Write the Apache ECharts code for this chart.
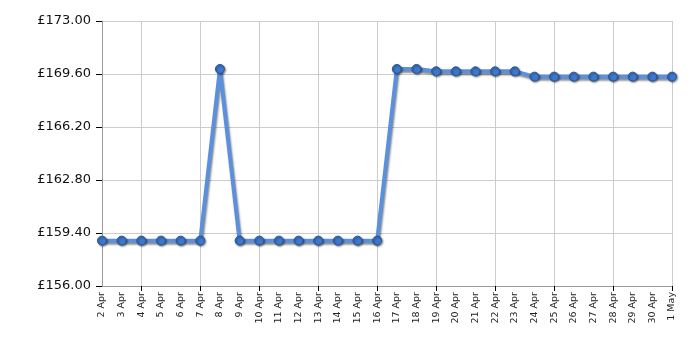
<!DOCTYPE html>
<html><head><meta charset="utf-8">
<script src="https://cdn.jsdelivr.net/npm/echarts@6/dist/echarts.min.js"></script>
<style>html,body{margin:0;padding:0;background:#fff}#c{width:700px;height:350px}</style>
</head><body><div id="c"></div>
<script>
const categories = ["2 Apr","3 Apr","4 Apr","5 Apr","6 Apr","7 Apr","8 Apr","9 Apr","10 Apr","11 Apr","12 Apr","13 Apr","14 Apr","15 Apr","16 Apr","17 Apr","18 Apr","19 Apr","20 Apr","21 Apr","22 Apr","23 Apr","24 Apr","25 Apr","26 Apr","27 Apr","28 Apr","29 Apr","30 Apr","1 May"];
const prices = [158.91,158.91,158.91,158.91,158.91,158.91,169.92,158.91,158.91,158.91,158.91,158.91,158.91,158.91,158.91,169.92,169.92,169.77,169.77,169.77,169.77,169.77,169.43,169.43,169.43,169.43,169.43,169.43,169.43,169.43];
const yMin = 156, yMax = 173, yStep = 3.4;

const chart = echarts.init(document.getElementById('c'));
const every3 = function(i){ return i % 3 === 2; };
chart.setOption({
  animation: false,
  grid: {left: 102, right: 28, top: 21, bottom: 64},
  xAxis: {
    type: 'category', data: categories, boundaryGap: false,
    axisLine: {lineStyle: {color: '#999', width: 1}},
    axisTick: {show: true, interval: every3, length: 5, lineStyle: {color: '#000'}},
    splitLine: {show: true, interval: every3, lineStyle: {color: '#ccc'}},
    axisLabel: {interval: 0, rotate: 90, fontFamily: 'DejaVu Sans', fontSize: 9.5, color: '#222', margin: 6}
  },
  yAxis: {
    type: 'value', min: yMin, max: yMax, interval: yStep,
    axisLine: {show: true, lineStyle: {color: '#999'}},
    axisTick: {show: true, length: 6, lineStyle: {color: '#000'}},
    splitLine: {show: true, lineStyle: {color: '#ccc'}},
    axisLabel: {fontFamily: 'DejaVu Sans', fontSize: 13, color: '#111', margin: 11,
      formatter: v => '£' + v.toFixed(2)}
  },
  series: [{
    type: 'line', data: prices,
    symbol: 'circle', symbolSize: 9,
    lineStyle: {color: '#5b90dd', width: 4, shadowColor: 'rgba(0,0,0,0.45)', shadowBlur: 2, shadowOffsetX: 1, shadowOffsetY: 2},
    itemStyle: {color: '#3d78cc', borderColor: '#2a558f', borderWidth: 1, shadowColor: 'rgba(0,0,0,0.45)', shadowBlur: 2, shadowOffsetX: 1, shadowOffsetY: 1}
  }]
});
</script></body></html>
